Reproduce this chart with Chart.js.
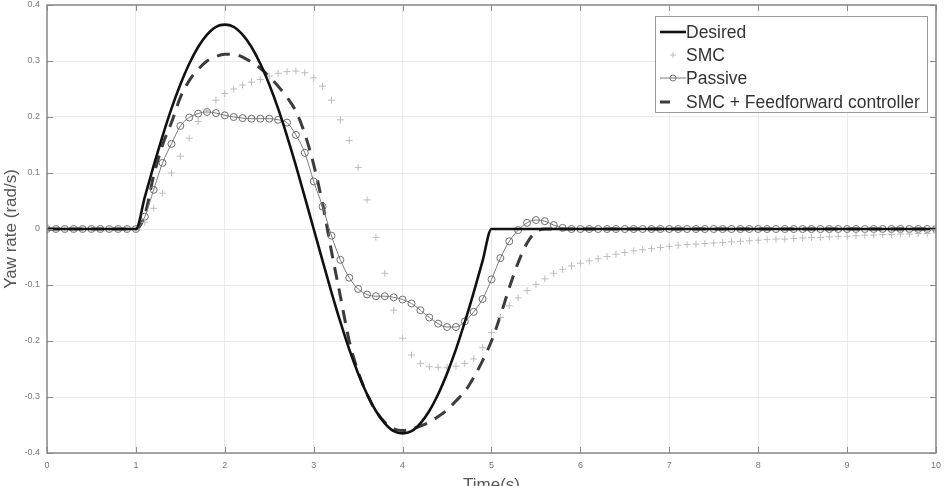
<!DOCTYPE html>
<html>
<head>
<meta charset="utf-8">
<script src="https://cdn.jsdelivr.net/npm/chart.js@4/dist/chart.umd.min.js"></script>
<style>
  html, body { margin: 0; padding: 0; overflow: hidden; background: #fff; }
  #wrap { width: 948px; height: 498px; position: relative; }
</style>
</head>
<body>
<div id="wrap"><canvas id="yawChart"></canvas></div>
<script>
const seriesNames = ["Desired", "SMC", "Passive", "SMC + Feedforward controller"];
const xTicks = [0, 1, 2, 3, 4, 5, 6, 7, 8, 9, 10];
const yTicks = [-0.4, -0.3, -0.2, -0.1, 0, 0.1, 0.2, 0.3, 0.4];
const sampleStep = 0.1; // s between samples

const desired = [
    0, 0, 0, 0, 0, 0, 0, 0, 0, 0, 0,
    0.057, 0.113, 0.166, 0.215, 0.258, 0.295, 0.325, 0.347, 0.361, 0.365,
    0.361, 0.347, 0.325, 0.295, 0.258, 0.215, 0.166, 0.113, 0.057, 0,
    -0.057, -0.113, -0.166, -0.215, -0.258, -0.295, -0.325, -0.347, -0.361, -0.365,
    -0.361, -0.347, -0.325, -0.295, -0.258, -0.215, -0.166, -0.113, -0.057, 0,
    0, 0, 0, 0, 0, 0, 0, 0, 0, 0,
    0, 0, 0, 0, 0, 0, 0, 0, 0, 0,
    0, 0, 0, 0, 0, 0, 0, 0, 0, 0,
    0, 0, 0, 0, 0, 0, 0, 0, 0, 0,
    0, 0, 0, 0, 0, 0, 0, 0, 0, 0
];

const smc = [
    0, 0, 0, 0, 0, 0, 0, 0, 0, 0, 0,
    0.012, 0.037, 0.064, 0.1, 0.13, 0.162, 0.192, 0.212, 0.23, 0.242,
    0.25, 0.257, 0.262, 0.267, 0.273, 0.278, 0.281, 0.282, 0.279, 0.27,
    0.255, 0.23, 0.195, 0.158, 0.11, 0.052, -0.015, -0.079, -0.145, -0.195,
    -0.225, -0.24, -0.246, -0.247, -0.247, -0.245, -0.24, -0.232, -0.212, -0.185,
    -0.158, -0.137, -0.123, -0.11, -0.099, -0.089, -0.079, -0.072, -0.066, -0.061,
    -0.057, -0.053, -0.049, -0.045, -0.042, -0.039, -0.037, -0.035, -0.033, -0.031,
    -0.029, -0.028, -0.027, -0.026, -0.025, -0.024, -0.023, -0.022, -0.021, -0.020,
    -0.019, -0.018, -0.018, -0.017, -0.016, -0.015, -0.015, -0.014, -0.013, -0.013,
    -0.012, -0.011, -0.011, -0.010, -0.010, -0.009, -0.009, -0.008, -0.008, -0.007
];

const passive = [
    0, 0, 0, 0, 0, 0, 0, 0, 0, 0, 0,
    0.022, 0.07, 0.118, 0.152, 0.184, 0.199, 0.206, 0.209, 0.207, 0.203,
    0.2, 0.198, 0.197, 0.197, 0.197, 0.195, 0.19, 0.168, 0.136, 0.085,
    0.04, -0.012, -0.055, -0.087, -0.107, -0.117, -0.12, -0.12, -0.122, -0.126,
    -0.133, -0.145, -0.158, -0.169, -0.175, -0.175, -0.165, -0.148, -0.125, -0.09,
    -0.052, -0.022, -0.002, 0.011, 0.016, 0.014, 0.007, 0.002, 0, 0,
    0, 0, 0, 0, 0, 0, 0, 0, 0, 0,
    0, 0, 0, 0, 0, 0, 0, 0, 0, 0,
    0, 0, 0, 0, 0, 0, 0, 0, 0, 0,
    0, 0, 0, 0, 0, 0, 0, 0, 0, 0
];

const feedforward = [
    0, 0, 0, 0, 0, 0, 0, 0, 0, 0, 0,
    0.025, 0.095, 0.15, 0.19, 0.235, 0.265, 0.285, 0.3, 0.308, 0.312,
    0.312, 0.307, 0.298, 0.287, 0.272, 0.255, 0.235, 0.21, 0.17, 0.115,
    0.045, -0.04, -0.12, -0.2, -0.255, -0.295, -0.325, -0.345, -0.357, -0.36,
    -0.357, -0.352, -0.345, -0.335, -0.323, -0.307, -0.29, -0.265, -0.235, -0.2,
    -0.155, -0.105, -0.06, -0.025, -0.005, 0, 0, 0, 0, 0,
    0, 0, 0, 0, 0, 0, 0, 0, 0, 0,
    0, 0, 0, 0, 0, 0, 0, 0, 0, 0,
    0, 0, 0, 0, 0, 0, 0, 0, 0, 0,
    0, 0, 0, 0, 0, 0, 0, 0, 0, 0
];

// pair each value with its sample time
function toPoints(values) {
    return values.map((y, i) => ({ x: Math.round(i * sampleStep * 10) / 10, y: y }));
}

const FONT = "'Liberation Sans', Arial, sans-serif";

// frame, inward ticks and the boxed legend, MATLAB style
const matlabFrame = {
    id: "matlabFrame",
    afterDraw(chart) {
        const { ctx, chartArea: a, scales } = chart;
        ctx.save();
        ctx.strokeStyle = "#8c8c8c";
        ctx.lineWidth = 1;
        xTicks.forEach(v => {
            const px = Math.round(scales.x.getPixelForValue(v)) + 0.5;
            ctx.beginPath();
            ctx.moveTo(px, a.bottom); ctx.lineTo(px, a.bottom - 6);
            ctx.moveTo(px, a.top); ctx.lineTo(px, a.top + 6);
            ctx.stroke();
        });
        yTicks.forEach(v => {
            const py = Math.round(scales.y.getPixelForValue(v)) + 0.5;
            ctx.beginPath();
            ctx.moveTo(a.left, py); ctx.lineTo(a.left + 6, py);
            ctx.moveTo(a.right, py); ctx.lineTo(a.right - 6, py);
            ctx.stroke();
        });
        ctx.lineWidth = 1.5;
        ctx.strokeStyle = "#888";
        ctx.strokeRect(a.left, a.top, a.right - a.left, a.bottom - a.top);

        // legend box
        const box = { x: 655.5, y: 16.5, w: 272, h: 96 };
        ctx.fillStyle = "#fff";
        ctx.fillRect(box.x, box.y, box.w, box.h);
        ctx.lineWidth = 1;
        ctx.strokeStyle = "#9a9a9a";
        ctx.strokeRect(box.x, box.y, box.w, box.h);

        const rows = [32, 55, 78, 102];
        ctx.font = "17.5px " + FONT;
        ctx.textBaseline = "middle";
        ctx.fillStyle = "#333";
        seriesNames.forEach((name, i) => {
            const y = rows[i];
            const ds = chart.data.datasets[i];
            ctx.save();
            if (i === 0) {
                ctx.strokeStyle = ds.borderColor; ctx.lineWidth = ds.borderWidth;
                ctx.beginPath(); ctx.moveTo(660, y); ctx.lineTo(686, y); ctx.stroke();
            } else if (i === 1) {
                ctx.strokeStyle = ds.pointBorderColor; ctx.lineWidth = 1;
                ctx.beginPath();
                ctx.moveTo(670, y); ctx.lineTo(676, y);
                ctx.moveTo(673, y - 3); ctx.lineTo(673, y + 3);
                ctx.stroke();
            } else if (i === 2) {
                ctx.strokeStyle = ds.borderColor; ctx.lineWidth = 1;
                ctx.beginPath(); ctx.moveTo(660, y); ctx.lineTo(686, y); ctx.stroke();
                ctx.beginPath(); ctx.arc(673, y, 3, 0, Math.PI * 2); ctx.stroke();
            } else {
                ctx.strokeStyle = ds.borderColor; ctx.lineWidth = ds.borderWidth;
                ctx.beginPath(); ctx.moveTo(660, y); ctx.lineTo(670, y); ctx.stroke();
            }
            ctx.restore();
            ctx.fillText(name, 686, y + 1);
        });
        ctx.restore();
    }
};

const ctx = document.getElementById("yawChart").getContext("2d");
new Chart(ctx, {
    type: "line",
    data: {
        datasets: [
            {
                label: seriesNames[0],
                data: toPoints(desired),
                borderColor: "#111",
                borderWidth: 2.6,
                pointRadius: 0,
                cubicInterpolationMode: "monotone"
            },
            {
                label: seriesNames[1],
                data: toPoints(smc),
                showLine: false,
                pointStyle: "cross",
                pointRadius: 3.5,
                pointBorderWidth: 1,
                pointBorderColor: "#bdbdbd",
                borderColor: "#bdbdbd"
            },
            {
                label: seriesNames[2],
                data: toPoints(passive),
                borderColor: "#7a7a7a",
                borderWidth: 1,
                pointRadius: 3.5,
                pointBorderWidth: 1,
                pointBorderColor: "#6e6e6e",
                pointBackgroundColor: "rgba(0,0,0,0)",
                cubicInterpolationMode: "monotone"
            },
            {
                label: seriesNames[3],
                data: toPoints(feedforward),
                borderColor: "#3c3c3c",
                borderWidth: 3,
                borderDash: [13, 9],
                pointRadius: 0,
                cubicInterpolationMode: "monotone"
            }
        ]
    },
    options: {
        responsive: true,
        maintainAspectRatio: false,
        animation: false,
        layout: { padding: { top: 5, right: 11, left: 0, bottom: 0 } },
        plugins: {
            legend: { display: false },
            tooltip: { enabled: false }
        },
        scales: {
            x: {
                type: "linear",
                min: 0,
                max: 10,
                afterFit: s => { s.height = 45; },
                afterBuildTicks: s => { s.ticks = xTicks.map(v => ({ value: v })); },
                ticks: { color: "#777", font: { family: FONT, size: 9 }, padding: 7, maxRotation: 0 },
                grid: { color: "#ececec", drawTicks: false },
                border: { display: false },
                title: {
                    display: true,
                    text: "Time(s)",
                    color: "#555",
                    font: { family: FONT, size: 17 },
                    padding: { top: 0, bottom: 2 }
                }
            },
            y: {
                min: -0.4,
                max: 0.4,
                afterFit: s => { s.width = 47; s.paddingTop = 0; s.paddingBottom = 0; },
                afterBuildTicks: s => { s.ticks = yTicks.map(v => ({ value: v })); },
                ticks: {
                    color: "#777",
                    font: { family: FONT, size: 9 },
                    padding: 7,
                    callback: v => String(Number(v.toFixed(1)))
                },
                grid: { color: "#ececec", drawTicks: false },
                border: { display: false },
                title: {
                    display: true,
                    text: "Yaw rate (rad/s)",
                    color: "#555",
                    font: { family: FONT, size: 17 },
                    padding: { top: 1, bottom: 0 }
                }
            }
        }
    },
    plugins: [matlabFrame]
});
</script>
</body>
</html>
